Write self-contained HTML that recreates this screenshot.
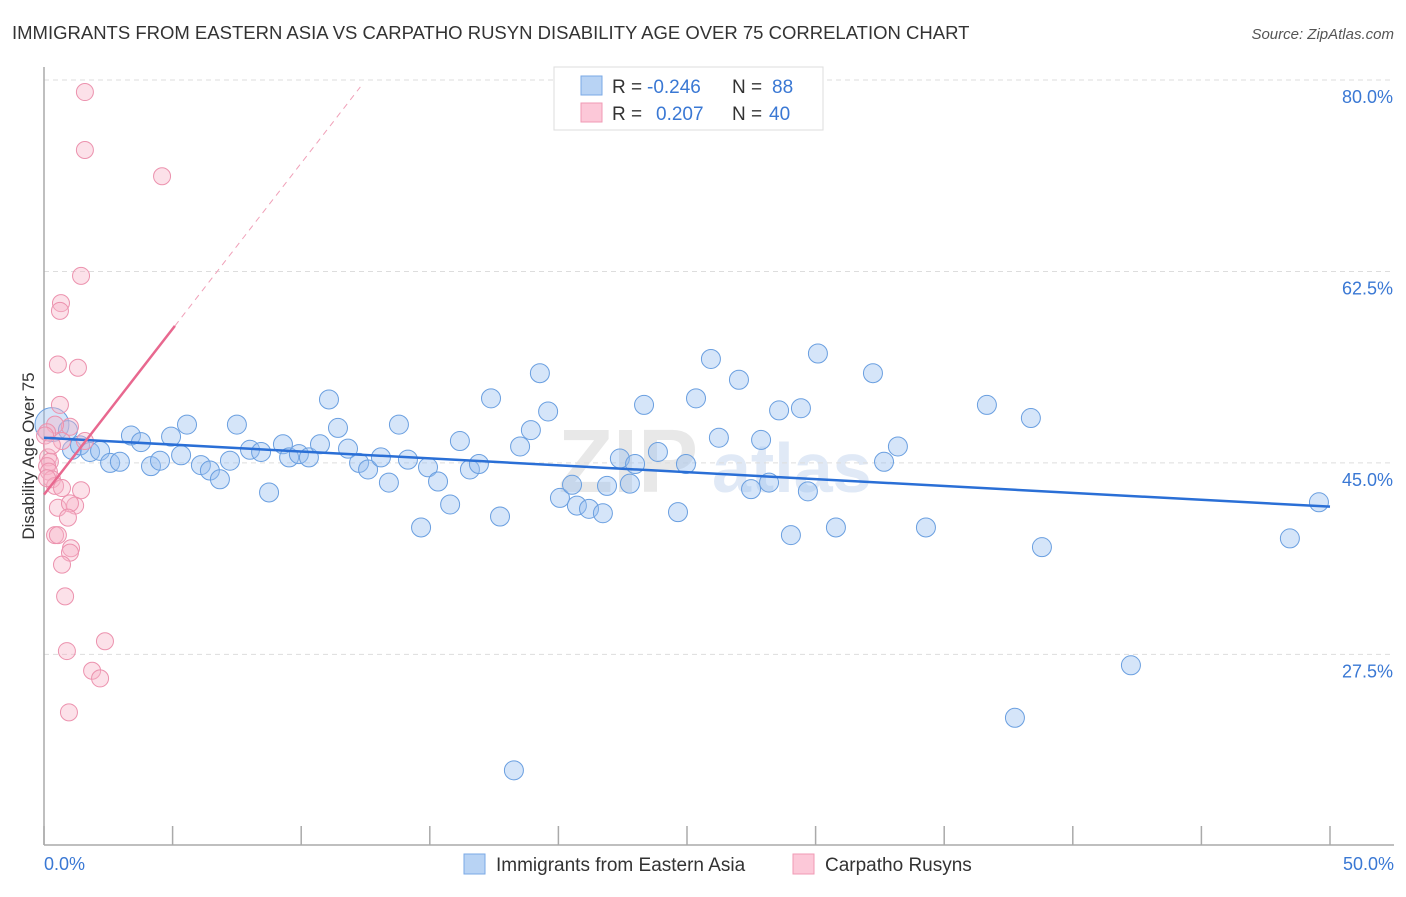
<!DOCTYPE html>
<html><head><meta charset="utf-8"><style>
body{margin:0;background:#fff;font-family:"Liberation Sans",sans-serif}
svg text{font-family:"Liberation Sans",sans-serif}
</style></head><body>
<svg id="c" width="1406" height="892">
<text x="12" y="39" font-size="18.5" fill="#333">IMMIGRANTS FROM EASTERN ASIA VS CARPATHO RUSYN DISABILITY AGE OVER 75 CORRELATION CHART</text>
<text x="1394" y="39" font-size="15" fill="#555" font-style="italic" text-anchor="end">Source: ZipAtlas.com</text>
<text x="34" y="456" font-size="17" fill="#333" text-anchor="middle" transform="rotate(-90 34 456)">Disability Age Over 75</text>
<text x="558" y="492" font-size="90" fill="#e8e8e8" font-family="Liberation Serif" font-weight="bold">ZIP</text>
<text x="712" y="492" font-size="70" fill="#e0e9f6" font-weight="bold">atlas</text>
<g id="grid"></g><g id="axes"></g><g id="pts"></g><g id="lines"></g>
<g>
<rect x="554" y="67" width="269" height="63" fill="#fff" stroke="#ddd"/>
<rect x="581" y="76" width="21" height="19" fill="#b8d3f4" stroke="#7aa8e6"/>
<rect x="581" y="103" width="21" height="19" fill="#fcc8d8" stroke="#f09ab4"/>
<text x="612" y="93" font-size="19" fill="#333">R =</text>
<text x="647" y="93" font-size="19" fill="#3a78d4">-0.246</text>
<text x="732" y="93" font-size="19" fill="#333">N =</text>
<text x="772" y="93" font-size="19" fill="#3a78d4">88</text>
<text x="612" y="120" font-size="19" fill="#333">R =</text>
<text x="656" y="120" font-size="19" fill="#3a78d4">0.207</text>
<text x="732" y="120" font-size="19" fill="#333">N =</text>
<text x="769" y="120" font-size="19" fill="#3a78d4">40</text>
</g>
<g>
<rect x="464" y="854" width="21" height="20" fill="#b8d3f4" stroke="#7aa8e6"/>
<text x="496" y="871" font-size="19" fill="#333">Immigrants from Eastern Asia</text>
<rect x="793" y="854" width="21" height="20" fill="#fcc8d8" stroke="#f09ab4"/>
<text x="825" y="871" font-size="19" fill="#333">Carpatho Rusyns</text>
</g>
</svg>
<script>
const yTicks=[80,62.5,45,27.5];
const yTickLabels=["80.0%","62.5%","45.0%","27.5%"];
const xTickLabels=["0.0%","50.0%"];
const blueX=[0.31,0.93,1.09,1.40,1.79,2.18,2.57,2.95,3.38,3.77,4.16,4.51,4.94,5.33,5.56,6.10,6.45,6.84,7.23,7.50,8.01,8.44,8.75,9.29,9.53,9.91,10.30,10.73,11.08,11.43,11.82,12.25,12.60,13.10,13.41,13.80,14.15,14.66,14.93,15.32,15.79,16.17,16.56,16.91,17.38,17.73,18.51,18.93,19.28,19.60,20.06,20.53,20.72,21.19,21.73,21.89,22.39,22.98,22.78,23.33,23.87,24.65,24.96,25.35,25.93,26.24,27.02,27.49,27.88,28.19,28.58,29.04,29.43,29.70,30.09,30.79,32.23,32.66,33.20,34.29,36.66,38.37,38.80,42.26,37.75,18.27,48.44,49.57];
const blueY=[48.5,48.0,46.2,46.6,46.0,46.1,45.0,45.1,47.5,46.9,44.7,45.2,47.4,45.7,48.5,44.8,44.3,43.5,45.2,48.5,46.2,46.0,42.3,46.7,45.5,45.8,45.5,46.7,50.8,48.2,46.3,45.0,44.4,45.5,43.2,48.5,45.3,39.1,44.6,43.3,41.2,47.0,44.4,44.9,50.9,40.1,46.5,48.0,53.2,49.7,41.8,43.0,41.1,40.8,40.4,42.9,45.4,44.9,43.1,50.3,46.0,40.5,44.9,50.9,54.5,47.3,52.6,42.6,47.1,43.2,49.8,38.4,50.0,42.4,55.0,39.1,53.2,45.1,46.5,39.1,50.3,49.1,37.3,26.5,21.7,16.9,38.1,41.4];
const pinkX=[1.59,1.59,4.59,1.44,0.66,0.62,0.54,1.32,0.62,1.01,0.43,0.12,0.04,0.70,1.59,0.16,0.23,0.12,0.19,0.31,0.43,0.70,1.44,0.54,1.21,1.01,0.93,0.43,0.54,1.05,1.01,0.70,0.82,2.37,0.89,1.87,2.18,0.97,0.12,0.31];
const pinkY=[78.9,73.6,71.2,62.1,59.6,58.9,54.0,53.7,50.3,48.3,48.5,47.8,47.5,47.0,47.0,45.5,45.1,44.7,44.2,43.5,42.9,42.7,42.5,40.9,41.1,41.3,40.0,38.4,38.4,37.2,36.8,35.7,32.8,28.7,27.8,26.0,25.3,22.2,43.6,46.6];
const blueTrend=[47.3,41.0];
const pinkTrend=[42.1,3.03];
const NS="http://www.w3.org/2000/svg";
const X=v=>44+v*1286/50, Y=v=>80+(80-v)*10.94;
function mk(p,t,a){const e=document.createElementNS(NS,t);for(const k in a)e.setAttribute(k,a[k]);p.appendChild(e);return e;}
const grid=document.getElementById('grid'),axes=document.getElementById('axes'),pts=document.getElementById('pts'),lines=document.getElementById('lines');
yTicks.forEach((t,i)=>{
 const l=mk(grid,'line',{x1:44,x2:1394,y1:Y(t),y2:Y(t),stroke:'#ddd','stroke-dasharray':'5,4'});
 
 
 const tx=mk(grid,'text',{x:1393,y:Y(t)+23,'font-size':18,fill:'#3a78d4','text-anchor':'end'});
 tx.textContent=yTickLabels[i];
 
 
});
const ya=mk(axes,'line',{x1:44,x2:44,y1:67,y2:845,stroke:'#aaa','stroke-width':1.5});


const xa=mk(axes,'line',{x1:44,x2:1394,y1:845,y2:845,stroke:'#aaa','stroke-width':1.5});


for(let i=0;i<=10;i++){const tk=mk(axes,'line',{x1:X(i*5),x2:X(i*5),y1:826,y2:845,stroke:'#aaa','stroke-width':1.5});
 
 }
[[0,'start',44],[50,'end',1394]].forEach((d,i)=>{const t=mk(axes,'text',{x:d[2],y:870,'font-size':18,fill:'#3a78d4','text-anchor':d[1]});t.textContent=xTickLabels[i];
 
 });
blueX.forEach((x,i)=>{const c=mk(pts,'circle',{cx:X(x),cy:Y(blueY[i]),r:i==0?17:9.5,fill:'rgba(150,190,240,0.4)',stroke:'#6a9fe0','stroke-width':1});
 
 });
pinkX.forEach((x,i)=>{const c=mk(pts,'circle',{cx:X(x),cy:Y(pinkY[i]),r:8.5,fill:'rgba(248,180,200,0.4)',stroke:'#ec92ae','stroke-width':1});
 
 });
const bl=mk(lines,'line',{x1:X(0),y1:Y(blueTrend[0]),x2:X(50),y2:Y(blueTrend[1]),stroke:'#2a6fd6','stroke-width':2.5});


const pe=5.09,pd=12.3;
const pl=mk(lines,'line',{x1:X(0),y1:Y(pinkTrend[0]),x2:X(pe),y2:Y(pinkTrend[0]+pinkTrend[1]*pe),stroke:'#e8688f','stroke-width':2.5});


const pdl=mk(lines,'line',{x1:X(pe),y1:Y(pinkTrend[0]+pinkTrend[1]*pe),x2:X(pd),y2:Y(pinkTrend[0]+pinkTrend[1]*pd),stroke:'#f0a0b8','stroke-width':1,'stroke-dasharray':'6,5'});


</script>
</body></html>
